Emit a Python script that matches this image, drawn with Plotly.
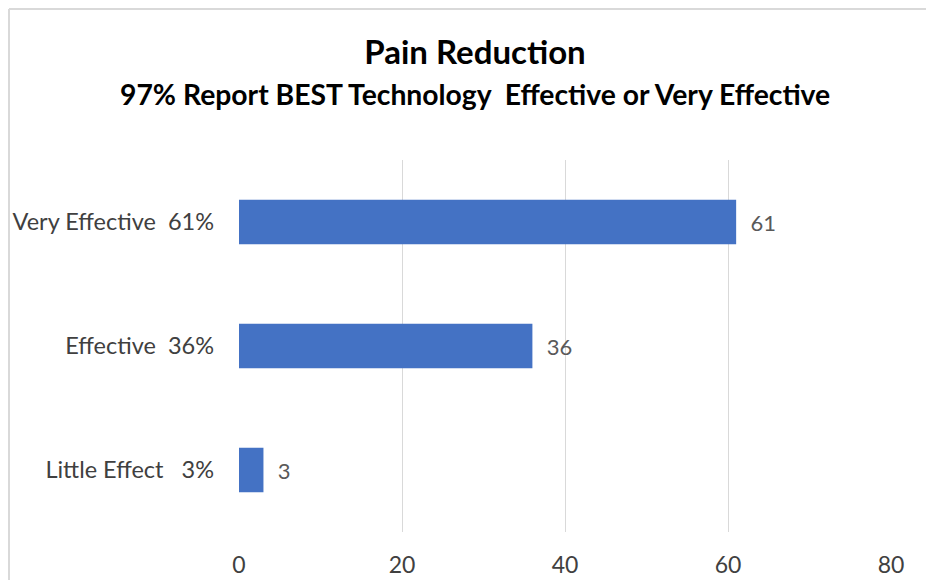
import plotly.graph_objects as go

categories = ["Little Effect\u00a0\u00a0\u00a03%", "Effective\u00a0\u00a036%", "Very Effective\u00a0\u00a061%"]
values = [3, 36, 61]
x_ticks = [0, 20, 40, 60, 80]

title_main = "Pain Reduction"
title_sub = "97% Report BEST Technology\u00a0\u00a0Effective or Very Effective"

FONT = "Lato, 'Open Sans', sans-serif"

# The page body has an 8px margin, so the figure is sized to fit the window.
W, H = 926, 572
L, R, T, B = 231, 43, 152, 48
PW, PH = W - L - R, H - T - B

fig = go.Figure()
fig.add_trace(go.Bar(
    y=categories, x=values, orientation="h",
    marker=dict(color="#4472C4", line=dict(width=0)),
    width=0.36,
    text=values,
    texttemplate="\u00a0\u00a0%{x}",
    textposition="outside",
    textfont=dict(family=FONT, size=22, color="#595959"),
    cliponaxis=False,
    hoverinfo="skip",
))

fig.update_layout(
    width=W, height=H,
    margin=dict(l=L, r=R, t=T, b=B, autoexpand=False),
    paper_bgcolor="white", plot_bgcolor="white",
    showlegend=False,
    font=dict(family=FONT, color="#404040"),
    title=dict(
        text="<b>" + title_main + "</b>",
        x=467 / W, xanchor="center", xref="container",
        y=1 - 44 / H, yanchor="middle", yref="container",
        font=dict(family=FONT, size=33, color="#000000"),
    ),
    annotations=[dict(
        text="<b>" + title_sub + "</b>",
        xref="paper", yref="paper",
        x=(467 - L) / PW, y=(H - B - 86) / PH,
        xanchor="center", yanchor="middle", showarrow=False,
        font=dict(family=FONT, size=28.3, color="#000000"),
    )],
    xaxis=dict(
        range=[0, 80], tickvals=x_ticks,
        showgrid=True, gridcolor="#d9d9d9", gridwidth=1,
        zeroline=False, showline=False,
        tickfont=dict(family=FONT, size=23, color="#404040"),
        ticks="", ticklabelstandoff=17,
        automargin=False,
        fixedrange=True,
    ),
    yaxis=dict(
        categoryorder="array", categoryarray=categories,
        showgrid=False, zeroline=False, showline=False,
        tickfont=dict(family=FONT, size=23.5, color="#404040"),
        ticks="", ticklabelstandoff=24,
        automargin=False,
        fixedrange=True,
    ),
    shapes=[
        dict(type="line", xref="paper", yref="paper",
             x0=(1 - L) / PW, x1=(1 - L) / PW,
             y0=(H - B - 1) / PH, y1=-0.2,
             line=dict(color="#d9d9d9", width=2)),
        dict(type="line", xref="paper", yref="paper",
             x0=(1 - L) / PW, x1=1.2,
             y0=(H - B - 1) / PH, y1=(H - B - 1) / PH,
             line=dict(color="#d9d9d9", width=2)),
    ],
)

fig.write_html("out.html")
